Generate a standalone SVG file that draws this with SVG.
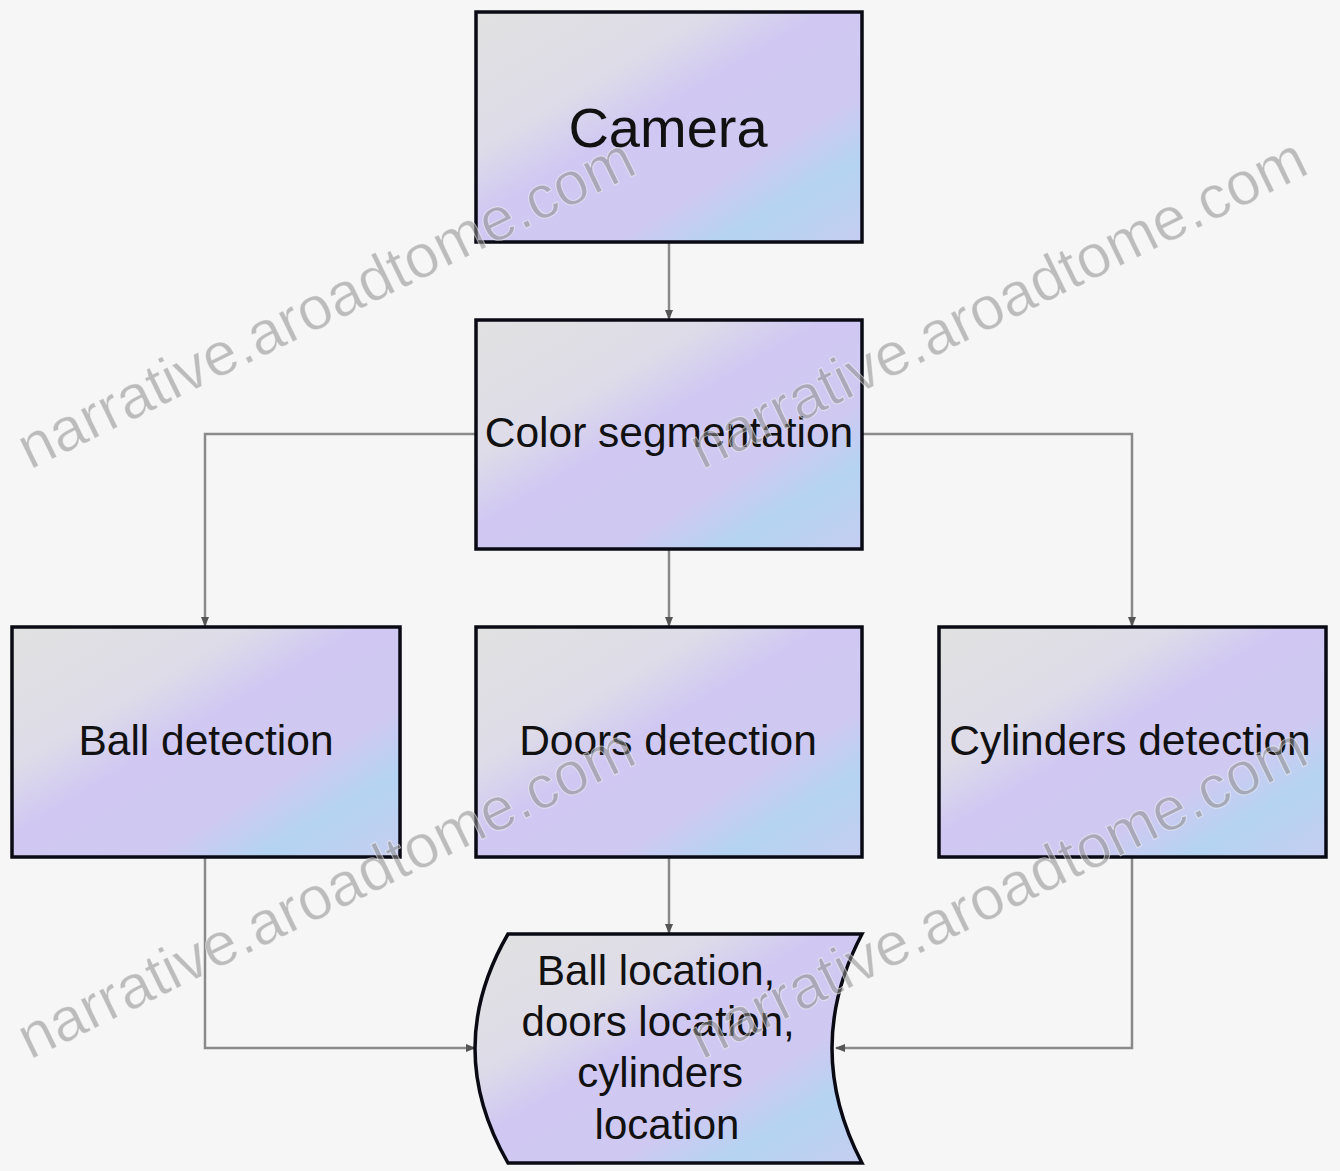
<svg xmlns="http://www.w3.org/2000/svg" width="1340" height="1171" viewBox="0 0 1340 1171">
  <defs>
    <linearGradient id="boxFill" x1="0" y1="0" x2="1" y2="1">
      <stop offset="0" stop-color="#e1e1e1"/>
      <stop offset="0.3" stop-color="#dedce8"/>
      <stop offset="0.45" stop-color="#d0c8f2"/>
      <stop offset="0.68" stop-color="#cfc9f2"/>
      <stop offset="0.82" stop-color="#b4d4f1"/>
      <stop offset="1" stop-color="#c6cdf1"/>
    </linearGradient>
    <marker id="arrow" viewBox="0 0 10 10" refX="9" refY="5" markerWidth="10" markerHeight="10" markerUnits="userSpaceOnUse" orient="auto">
      <path d="M0,1 L10,5 L0,9 Z" fill="#555"/>
    </marker>
    <style>
      .box { fill: url(#boxFill); stroke: #0a0a14; stroke-width: 3.5; }
      .label { font-family: "Liberation Sans", Arial, sans-serif; fill: #111; text-anchor: middle; }
      .link { fill: none; stroke: #8a8a8a; stroke-width: 2.5; marker-end: url(#arrow); }
      .mark { font-family: "Liberation Sans", Arial, sans-serif; font-size: 61px; fill: #8c8c8c; fill-opacity: 0.55; stroke: #ffffff; stroke-opacity: 0.5; stroke-width: 1; }
    </style>
  </defs>

  <rect x="0" y="0" width="1340" height="1171" fill="#f6f6f6"/>

  <g id="connectors">
    <path class="link" d="M669,243 V319"/>
    <path class="link" d="M476,434 H205 V626"/>
    <path class="link" d="M862,434 H1132 V626"/>
    <path class="link" d="M669,550 V626"/>
    <path class="link" d="M669,858 V933"/>
    <path class="link" d="M205,858 V1048 H475"/>
    <path class="link" d="M1132,858 V1048 H836"/>
  </g>

  <g id="camera">
    <rect class="box" x="476" y="12" width="386" height="230"/>
    <text class="label" x="668" y="147" font-size="56">Camera</text>
  </g>

  <g id="color-segmentation">
    <rect class="box" x="476" y="320" width="386" height="229"/>
    <text class="label" x="669" y="447" font-size="42.5">Color segmentation</text>
  </g>

  <g id="ball-detection">
    <rect class="box" x="12" y="627" width="388" height="230"/>
    <text class="label" x="206" y="755" font-size="42.5">Ball detection</text>
  </g>

  <g id="doors-detection">
    <rect class="box" x="476" y="627" width="386" height="230"/>
    <text class="label" x="668" y="755" font-size="42.5">Doors detection</text>
  </g>

  <g id="cylinders-detection">
    <rect class="box" x="939" y="627" width="387" height="230"/>
    <text class="label" x="1130" y="755" font-size="42.5">Cylinders detection</text>
  </g>

  <g id="locations">
    <path class="box" d="M508,934 H862 Q802,1048 862,1163 H508 Q442,1048 508,934 Z"/>
    <text class="label" font-size="42">
      <tspan x="662" y="985">Ball location,</tspan>
      <tspan x="664" y="1036">doors location,</tspan>
      <tspan x="666" y="1087">cylinders</tspan>
      <tspan x="667" y="1139">location</tspan>
    </text>
  </g>

  <!-- site stamp repeated across the sheet -->
  <g id="stamp">
    <text class="mark" transform="translate(30,470) rotate(-26)">narrative.aroadtome.com</text>
    <text class="mark" transform="translate(702,470) rotate(-26)">narrative.aroadtome.com</text>
    <text class="mark" transform="translate(30,1060) rotate(-26)">narrative.aroadtome.com</text>
    <text class="mark" transform="translate(702,1060) rotate(-26)">narrative.aroadtome.com</text>
  </g>
</svg>
